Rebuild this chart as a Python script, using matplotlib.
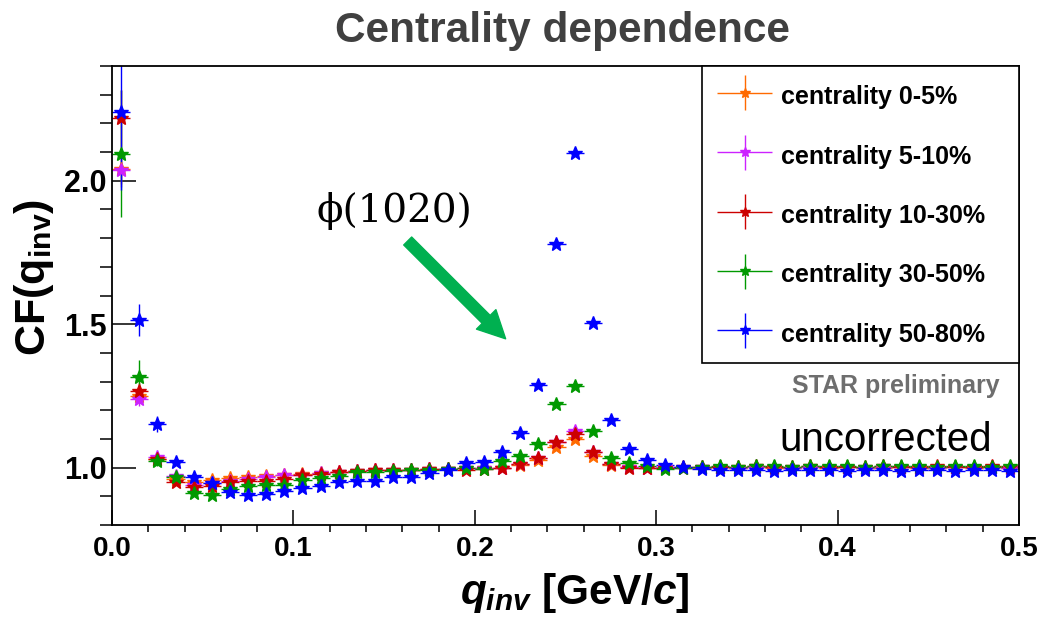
import numpy as np
import matplotlib
matplotlib.use("Agg")
import matplotlib.pyplot as plt
from matplotlib.container import ErrorbarContainer
from matplotlib.legend_handler import HandlerErrorbar

plt.rcParams['font.family'] = ['Liberation Sans', 'DejaVu Sans']
plt.rcParams['mathtext.fontset'] = 'custom'
plt.rcParams['mathtext.rm'] = 'Liberation Sans:bold'
plt.rcParams['mathtext.it'] = 'Liberation Sans:italic:bold'
plt.rcParams['mathtext.bf'] = 'Liberation Sans:bold'

# q_inv histogram: 50 bins of 0.01 GeV/c from 0 to 0.5
bin_width = 0.01

cf_0_5 = [2.040, 1.250, 1.030, 0.960, 0.950, 0.957, 0.964, 0.966, 0.970, 0.975,
          0.978, 0.982, 0.986, 0.988, 0.990, 0.991, 0.993, 0.995, 0.996, 0.997,
          0.998, 1.000, 1.008, 1.025, 1.071, 1.100, 1.042, 1.010, 1.002, 1.000,
          1.001, 0.999, 1.000, 1.002, 0.999, 1.001, 1.000, 0.999, 1.002, 1.000,
          1.001, 0.999, 1.000, 1.002, 1.000, 0.999, 1.001, 1.000, 1.001, 0.999]
cf_5_10 = [2.037, 1.239, 1.036, 0.970, 0.940, 0.945, 0.955, 0.960, 0.969, 0.976,
           0.975, 0.980, 0.984, 0.987, 0.990, 0.990, 0.993, 0.994, 0.995, 0.997,
           0.998, 1.000, 1.013, 1.034, 1.090, 1.127, 1.053, 1.012, 1.002, 1.000,
           1.002, 1.000, 1.001, 1.003, 1.000, 1.002, 1.001, 1.000, 1.003, 1.001,
           1.002, 1.000, 1.001, 1.003, 1.001, 1.000, 1.002, 1.001, 1.002, 1.000]
cf_10_30 = [2.218, 1.268, 1.030, 0.949, 0.931, 0.935, 0.951, 0.952, 0.955, 0.962,
            0.976, 0.978, 0.986, 0.988, 0.990, 0.991, 0.992, 0.994, 0.995, 0.993,
            0.995, 0.999, 1.013, 1.034, 1.088, 1.117, 1.053, 1.011, 1.000, 1.000,
            1.000, 1.002, 1.001, 1.003, 1.002, 1.004, 1.002, 1.003, 1.004, 1.002,
            1.003, 1.002, 1.004, 1.003, 1.002, 1.004, 1.003, 1.002, 1.004, 1.003]
cf_30_50 = [2.095, 1.315, 1.024, 0.966, 0.912, 0.905, 0.925, 0.935, 0.940, 0.940,
            0.957, 0.965, 0.972, 0.983, 0.985, 0.988, 0.990, 0.992, 0.995, 0.999,
            0.995, 1.024, 1.042, 1.083, 1.222, 1.286, 1.127, 1.033, 1.015, 1.007,
            0.995, 1.000, 1.002, 1.004, 1.003, 1.005, 1.004, 1.003, 1.005, 1.004,
            1.005, 1.003, 1.004, 1.005, 1.004, 1.003, 1.005, 1.004, 1.003, 1.004]
cf_50_80 = [2.238, 1.515, 1.152, 1.019, 0.966, 0.945, 0.914, 0.905, 0.908, 0.917,
            0.928, 0.937, 0.951, 0.955, 0.955, 0.969, 0.966, 0.980, 0.990, 1.015,
            1.019, 1.053, 1.120, 1.289, 1.779, 2.096, 1.503, 1.166, 1.065, 1.027,
            1.010, 1.003, 0.995, 0.992, 0.990, 0.991, 0.989, 0.990, 0.992, 0.990,
            0.989, 0.991, 0.990, 0.989, 0.991, 0.990, 0.989, 0.990, 0.991, 0.989]

err_head = {
    '0-5':   [0.050, 0.020, 0.010],
    '5-10':  [0.060, 0.025, 0.010],
    '10-30': [0.100, 0.030, 0.012],
    '30-50': [0.220, 0.060, 0.020],
    '50-80': [0.270, 0.056, 0.028],
}
err_tail = {'0-5': 0.004, '5-10': 0.004, '10-30': 0.004, '30-50': 0.006, '50-80': 0.008}

labels = ['centrality 0-5%', 'centrality 5-10%', 'centrality 10-30%',
          'centrality 30-50%', 'centrality 50-80%']
keys = ['0-5', '5-10', '10-30', '30-50', '50-80']
series = [cf_0_5, cf_5_10, cf_10_30, cf_30_50, cf_50_80]
colors = ['#ff6a00', '#cc22ff', '#cc0000', '#009900', '#0000ff']

fig = plt.figure(figsize=(10.45, 6.21), dpi=100)
ax = fig.add_axes([0.1072, 0.1546, 0.8679, 0.7391])

for vals, key, lab, col in zip(series, keys, labels, colors):
    vals = np.array(vals)
    q = (np.arange(len(vals)) + 0.5) * bin_width
    yerr = np.array(err_head[key] + [err_tail[key]] * (len(vals) - 3))
    ax.errorbar(q, vals, xerr=bin_width / 2, yerr=yerr, fmt='*', color=col,
                ms=10.5, mec=col, elinewidth=1.0, capsize=0, label=lab)

ax.set_xlim(0, 0.5)
ax.set_ylim(0.8, 2.4)
ax.set_xticks([0.0, 0.1, 0.2, 0.3, 0.4, 0.5])
ax.set_xticks(np.arange(0, 0.501, 0.02), minor=True)
ax.set_yticks([1.0, 1.5, 2.0])
ax.set_yticks(np.arange(0.8, 2.41, 0.1), minor=True)
ax.xaxis.set_major_formatter(matplotlib.ticker.FormatStrFormatter('%.1f'))
ax.yaxis.set_major_formatter(matplotlib.ticker.FormatStrFormatter('%.1f'))
ax.tick_params(direction='in', top=False, right=False, width=1.1)
ax.tick_params(axis='x', which='major', length=10.5, labelsize=20, pad=8)
ax.tick_params(axis='x', which='minor', length=5, width=1.1)
ax.tick_params(axis='y', which='major', length=17, labelsize=22, pad=4)
ax.tick_params(axis='y', which='minor', length=8.5, width=1.1)
for lab in ax.get_xticklabels() + ax.get_yticklabels():
    lab.set_fontweight('bold')
for sp in ax.spines.values():
    sp.set_linewidth(1.3)

ax.set_xlabel(r'$q_{inv}$ [GeV/$c$]', fontsize=30.5, fontweight='bold')
ax.xaxis.set_label_coords(0.51, -0.10)
ax.set_ylabel(r'CF(q$_{\mathrm{inv}}$)', fontsize=31, fontweight='bold')
ax.yaxis.set_label_coords(-0.062, 0.54)

fig.text(0.538, 0.932, 'Centrality dependence', fontsize=30.5, fontweight='bold',
         color='#404040', ha='center', va='baseline')

leg = ax.legend(loc='upper left', bbox_to_anchor=(0.650, 0.0, 0.350, 1.0),
                mode='expand', prop={'weight': 'bold', 'size': 18},
                frameon=True, fancybox=False, framealpha=1, edgecolor='black',
                borderaxespad=0, borderpad=0.62, handlelength=2.2, handleheight=1.4,
                handletextpad=0.35, labelspacing=1.22, markerscale=0.7,
                handler_map={ErrorbarContainer: HandlerErrorbar(xerr_size=1.1, yerr_size=0.7)})
leg.get_frame().set_linewidth(1.2)

ax.text(0.979, 0.2876, 'STAR preliminary', transform=ax.transAxes, ha='right',
        va='baseline', fontsize=18, fontweight='bold', color='#6e6e6e')
ax.text(0.970, 0.161, 'uncorrected', transform=ax.transAxes, ha='right',
        va='baseline', fontsize=29, color='black')
ax.text(0.226, 0.660, '\u03d5(1020)', transform=ax.transAxes, ha='left',
        va='baseline', fontsize=28, family=['DejaVu Serif'], color='black')
ax.annotate('', xy=(0.217, 1.449), xytext=(0.163, 1.79),
            arrowprops=dict(arrowstyle='simple,head_length=1.1,head_width=1.1,tail_width=0.45',
                            color='#00b050', mutation_scale=18, shrinkA=0, shrinkB=0))

fig.savefig('out.png', dpi=100)
